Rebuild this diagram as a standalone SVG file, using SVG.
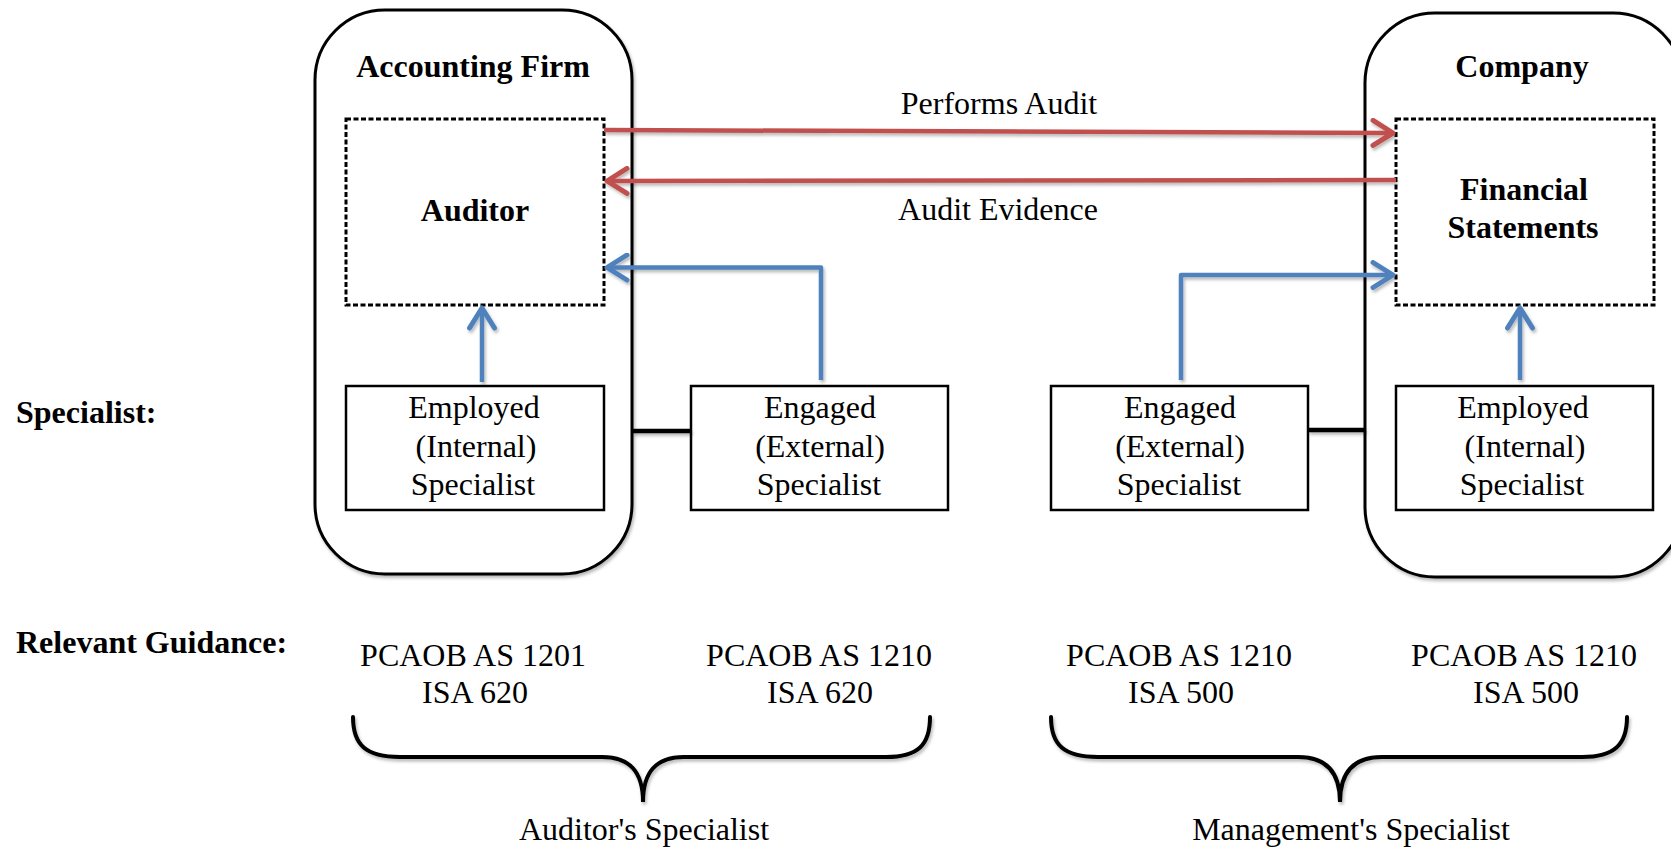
<svg xmlns="http://www.w3.org/2000/svg" width="1671" height="847" viewBox="0 0 1671 847">
<style>
text{font-family:"Liberation Serif","Times New Roman",serif;font-size:32px;fill:#000}
.b{font-weight:bold}
.m{text-anchor:middle}
.org{fill:#fff;stroke:#000;stroke-width:3}
.dash{fill:#fff;stroke:#000;stroke-width:3;stroke-dasharray:5 2.5}
.box{fill:#fff;stroke:#000;stroke-width:2.5}
.red{fill:none;stroke:#C0504D;stroke-width:4.5}
.blue{fill:none;stroke:#4F81BD;stroke-width:4.5;stroke-linejoin:round}
.link{fill:none;stroke:#000;stroke-width:4.5}
.brace{fill:none;stroke:#000;stroke-width:4;stroke-linecap:round}
</style>
<defs>
<filter id="sh" filterUnits="userSpaceOnUse" x="0" y="0" width="1671" height="847">
<feDropShadow dx="1.5" dy="2.5" stdDeviation="1.5" flood-color="#000" flood-opacity="0.28"/>
</filter>
<marker id="ar" viewBox="-24 -15 28 30" refX="0" refY="0" markerWidth="28" markerHeight="30" markerUnits="userSpaceOnUse" orient="auto">
<path d="M-20,-12.5 L0,0 L-20,12.5" fill="none" stroke="#C0504D" stroke-width="5" stroke-linecap="round" stroke-linejoin="round"/>
</marker>
<marker id="ab" viewBox="-24 -15 28 30" refX="0" refY="0" markerWidth="28" markerHeight="30" markerUnits="userSpaceOnUse" orient="auto">
<path d="M-20,-12.5 L0,0 L-20,12.5" fill="none" stroke="#4F81BD" stroke-width="5" stroke-linecap="round" stroke-linejoin="round"/>
</marker>
</defs>
<rect width="1671" height="847" fill="#fff"/>

<g id="accounting-firm">
<rect class="org" x="315" y="10" width="317" height="564" rx="70" ry="70" filter="url(#sh)"/>
<text class="b m" x="473" y="77">Accounting Firm</text>
</g>
<g id="company">
<rect class="org" x="1365" y="13" width="318" height="564" rx="70" ry="70" filter="url(#sh)"/>
<text class="b m" x="1522" y="77">Company</text>
</g>
<g id="auditor">
<rect class="dash" x="346" y="119" width="258" height="186"/>
<text class="b m" x="475" y="221">Auditor</text>
</g>
<g id="financial-statements">
<rect class="dash" x="1396" y="119" width="258" height="186"/>
<text class="b m" x="1524" y="200">Financial</text>
<text class="b m" x="1523" y="238">Statements</text>
</g>
<g id="auditor-employed">
<rect class="box" x="346" y="386" width="258" height="124"/>
<text class="m" x="474" y="418">Employed</text>
<text class="m" x="476" y="457">(Internal)</text>
<text class="m" x="473" y="495">Specialist</text>
</g>
<g id="auditor-engaged">
<rect class="box" x="691" y="386" width="257" height="124"/>
<text class="m" x="820" y="418">Engaged</text>
<text class="m" x="820" y="457">(External)</text>
<text class="m" x="819" y="495">Specialist</text>
</g>
<g id="management-engaged">
<rect class="box" x="1051" y="386" width="257" height="124"/>
<text class="m" x="1180" y="418">Engaged</text>
<text class="m" x="1180" y="457">(External)</text>
<text class="m" x="1179" y="495">Specialist</text>
</g>
<g id="management-employed">
<rect class="box" x="1396" y="386" width="257" height="124"/>
<text class="m" x="1523" y="418">Employed</text>
<text class="m" x="1525" y="457">(Internal)</text>
<text class="m" x="1522" y="495">Specialist</text>
</g>

<g id="connectors">
<g filter="url(#sh)">
<path class="red" d="M604,130 L1393,133" marker-end="url(#ar)"/>
<path class="red" d="M1396,180 L607,181" marker-end="url(#ar)"/>
<path class="blue" d="M821,380 L821,267.5 L607,267.5" marker-end="url(#ab)"/>
<path class="blue" d="M482,382 L482,308" marker-end="url(#ab)"/>
<path class="blue" d="M1181,380 L1181,275 L1393,275" marker-end="url(#ab)"/>
<path class="blue" d="M1520,380 L1520,308" marker-end="url(#ab)"/>
<path class="link" d="M632,431 L691,431"/>
<path class="link" d="M1308,430 L1365,430"/>
</g>
<text class="m" x="999" y="114">Performs Audit</text>
<text class="m" x="998" y="220">Audit Evidence</text>
</g>

<g id="row-labels">
<text class="b" x="16" y="423">Specialist:</text>
<text class="b" x="16" y="653">Relevant Guidance:</text>
</g>

<g id="guidance">
<text class="m" x="473" y="666">PCAOB AS 1201</text>
<text class="m" x="475" y="703">ISA 620</text>
<text class="m" x="819" y="666">PCAOB AS 1210</text>
<text class="m" x="820" y="703">ISA 620</text>
<text class="m" x="1179" y="666">PCAOB AS 1210</text>
<text class="m" x="1181" y="703">ISA 500</text>
<text class="m" x="1524" y="666">PCAOB AS 1210</text>
<text class="m" x="1526" y="703">ISA 500</text>
</g>

<g id="auditors-specialist">
<path class="brace" filter="url(#sh)" d="M353,717 C353,745 366,757 400,757 L602,757 C630,757 643,772 643,802 C643,772 656,757 684,757 L886,757 C918,757 930,745 930,717"/>
<text class="m" x="644" y="840">Auditor's Specialist</text>
</g>
<g id="managements-specialist">
<path class="brace" filter="url(#sh)" d="M1051,717 C1051,745 1064,757 1098,757 L1298,757 C1326,757 1340,772 1340,802 C1340,772 1354,757 1382,757 L1582,757 C1614,757 1627,745 1627,717"/>
<text class="m" x="1351" y="840">Management's Specialist</text>
</g>
</svg>
